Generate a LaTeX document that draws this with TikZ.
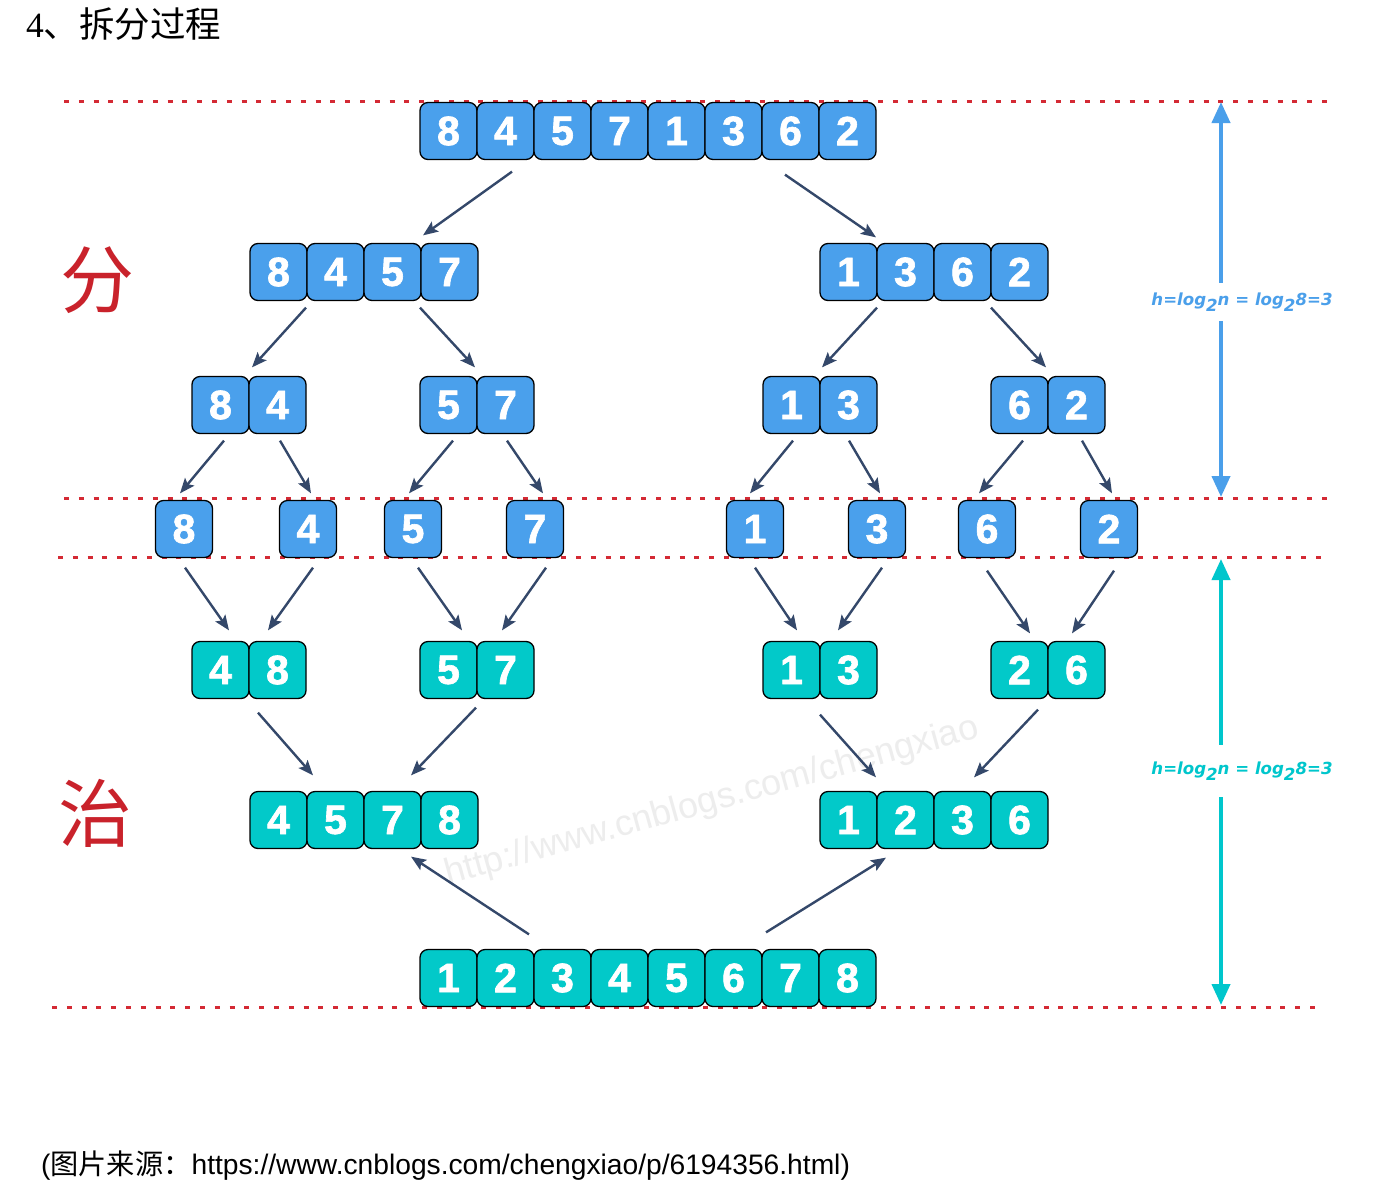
\documentclass[tikz,border=0pt]{standalone}
\usepackage{fontspec}
\setmainfont{Liberation Sans}
\newfontfamily\cjk{Noto Sans CJK SC}
\newfontfamily\serifnum{Liberation Serif}
\newfontfamily\formulafont{DejaVu Sans}
\newfontfamily\digitfont{Liberation Sans Bold}[FakeBold=1.6]
\usetikzlibrary{arrows.meta,calc}

\definecolor{cellblue}{HTML}{4AA0EC}
\definecolor{cellteal}{HTML}{02C9C9}
\definecolor{arrowdark}{HTML}{34486A}
\definecolor{dotred}{HTML}{D42A34}
\definecolor{bigred}{HTML}{C9222B}
\definecolor{hblue}{HTML}{4A9FEA}
\definecolor{hteal}{HTML}{00C6CC}

\tikzset{
  cell/.style={draw=black, line width=1.3pt, rounded corners=8pt,
    minimum width=57pt, minimum height=57pt, inner sep=0pt, text=white,
    font=\digitfont\fontsize{41}{41}\selectfont},
  bluecell/.style={cell, fill=cellblue},
  tealcell/.style={cell, fill=cellteal},
  flow/.style={draw=arrowdark, line width=2.4pt,
    -{Stealth[length=15pt,width=12pt,inset=3pt]}},
  redline/.style={draw=dotred, line width=3pt, dash pattern=on 5pt off 9.8pt},
  heightlabel/.style={font=\formulafont\fontsize{16.6}{16.6}\selectfont\bfseries\itshape,
    minimum height=38pt, inner sep=0pt},
  heightarrow/.style={line width=4pt, -{Triangle[length=21pt,width=18pt]}},
  bigchar/.style={text=bigred, font=\cjk\fontsize{74}{74}\selectfont}
}

\newcommand\sublow[1]{\raisebox{-0.35em}{#1}}

\begin{document}
\begin{tikzpicture}[x=1pt,y=-1pt]
\useasboundingbox (0,0) rectangle (1383,1186);
\fill[white] (0,0) rectangle (1383,1186);

% faint watermark
\node[rotate=15.5, text=black!7, font=\fontsize{36}{36}\selectfont] (wm) at (712,802)
  {http://www.cnblogs.com/chengxiao};

% heading and source line
\node[anchor=west, inner sep=0pt, font=\fontsize{35.5}{35.5}\selectfont] (title) at (26,24)
  {{\serifnum 4}{\cjk 、拆分过程}};
\node[anchor=west, inner sep=0pt, font=\fontsize{28.2}{28.2}\selectfont] (src) at (41,1166)
  {({\cjk 图片来源：}https://www.cnblogs.com/chengxiao/p/6194356.html)};

% dotted level lines
\draw[redline] (64,101) -- (1330,101);
\draw[redline] (64,498) -- (1330,498);
\draw[redline] (58,557) -- (1325,557);
\draw[redline] (52,1007) -- (1318,1007);

% big characters
\node[bigchar] (fen) at (97,280) {分};
\node[bigchar] (zhi) at (95,813) {治};

% split phase
\foreach \d [count=\i] in {8,4,5,7,1,3,6,2}
  \node[bluecell] (r1c\i) at ({448.5+57*(\i-1)},131) {\d};
\foreach \d [count=\i] in {8,4,5,7}
  \node[bluecell] (r2a\i) at ({278.5+57*(\i-1)},272) {\d};
\foreach \d [count=\i] in {1,3,6,2}
  \node[bluecell] (r2b\i) at ({848.5+57*(\i-1)},272) {\d};
\foreach \d [count=\i] in {8,4}
  \node[bluecell] (r3a\i) at ({220.5+57*(\i-1)},405) {\d};
\foreach \d [count=\i] in {5,7}
  \node[bluecell] (r3b\i) at ({448.5+57*(\i-1)},405) {\d};
\foreach \d [count=\i] in {1,3}
  \node[bluecell] (r3c\i) at ({791.5+57*(\i-1)},405) {\d};
\foreach \d [count=\i] in {6,2}
  \node[bluecell] (r3d\i) at ({1019.5+57*(\i-1)},405) {\d};
\foreach \d/\x [count=\i] in {8/184,4/308,5/413,7/535,1/755,3/877,6/987,2/1109}
  \node[bluecell] (s\i) at (\x,529) {\d};

% merge phase
\foreach \d [count=\i] in {4,8}
  \node[tealcell] (r5a\i) at ({220.5+57*(\i-1)},670) {\d};
\foreach \d [count=\i] in {5,7}
  \node[tealcell] (r5b\i) at ({448.5+57*(\i-1)},670) {\d};
\foreach \d [count=\i] in {1,3}
  \node[tealcell] (r5c\i) at ({791.5+57*(\i-1)},670) {\d};
\foreach \d [count=\i] in {2,6}
  \node[tealcell] (r5d\i) at ({1019.5+57*(\i-1)},670) {\d};
\foreach \d [count=\i] in {4,5,7,8}
  \node[tealcell] (r6a\i) at ({278.5+57*(\i-1)},820) {\d};
\foreach \d [count=\i] in {1,2,3,6}
  \node[tealcell] (r6b\i) at ({848.5+57*(\i-1)},820) {\d};
\foreach \d [count=\i] in {1,2,3,4,5,6,7,8}
  \node[tealcell] (r7c\i) at ({448.5+57*(\i-1)},978) {\d};

% level 1 -> 2
\draw[flow] ($(r1c2.south)+(6.5,11.5)$) -- ($(r2a4.north)+(-26.5,-7.5)$);
\draw[flow] ($(r1c7.south)+(-5.5,14.5)$) -- ($(r2b1.north)+(27.5,-5.5)$);
% level 2 -> 3
\draw[flow] ($(r2a1.south)+(27.5,6.5)$) -- ($(r3a1.north)+(31.5,-8.5)$);
\draw[flow] ($(r2a4.south)+(-29.5,6.5)$) -- ($(r3b2.north)+(-30.5,-8.5)$);
\draw[flow] ($(r2b1.south)+(28.5,6.5)$) -- ($(r3c1.north)+(30.5,-8.5)$);
\draw[flow] ($(r2b4.south)+(-28.5,6.5)$) -- ($(r3d2.north)+(-30.5,-8.5)$);
% level 3 -> singles
\draw[flow] ($(r3a1.south)+(3.5,6.5)$) -- ($(s1.north)+(-4,-6.5)$);
\draw[flow] ($(r3a2.south)+(2.5,6.5)$) -- ($(s2.north)+(3,-6.5)$);
\draw[flow] ($(r3b1.south)+(4.5,6.5)$) -- ($(s3.north)+(-4,-6.5)$);
\draw[flow] ($(r3b2.south)+(1.5,6.5)$) -- ($(s4.north)+(8,-6.5)$);
\draw[flow] ($(r3c1.south)+(1.5,6.5)$) -- ($(s5.north)+(-5,-6.5)$);
\draw[flow] ($(r3c2.south)+(0.5,6.5)$) -- ($(s6.north)+(3,-6.5)$);
\draw[flow] ($(r3d1.south)+(3.5,6.5)$) -- ($(s7.north)+(-8,-6.5)$);
\draw[flow] ($(r3d2.south)+(5.5,6.5)$) -- ($(s8.north)+(3,-6.5)$);
% singles -> pairs
\draw[flow] ($(s1.south)+(1,9.5)$) -- ($(r5a1.north)+(8.5,-10.5)$);
\draw[flow] ($(s2.south)+(5,9.5)$) -- ($(r5a2.north)+(-9.5,-10.5)$);
\draw[flow] ($(s3.south)+(5,9.5)$) -- ($(r5b1.north)+(13.5,-10.5)$);
\draw[flow] ($(s4.south)+(11,9.5)$) -- ($(r5b2.north)+(-3.5,-10.5)$);
\draw[flow] ($(s5.south)+(0,9.5)$) -- ($(r5c1.north)+(5.5,-10.5)$);
\draw[flow] ($(s6.south)+(5,9.5)$) -- ($(r5c2.north)+(-10.5,-10.5)$);
\draw[flow] ($(s7.south)+(0,12.5)$) -- ($(r5d1.north)+(10.5,-7.5)$);
\draw[flow] ($(s8.south)+(5,12.5)$) -- ($(r5d2.north)+(-4.5,-7.5)$);
% pairs -> quads
\draw[flow] ($(r5a1.south)+(37.5,13.5)$) -- ($(r6a1.north)+(34.5,-15.5)$);
\draw[flow] ($(r5b2.south)+(-29.5,8.5)$) -- ($(r6a4.north)+(-38.5,-15.5)$);
\draw[flow] ($(r5c1.south)+(28.5,15.5)$) -- ($(r6b1.north)+(27.5,-13.5)$);
\draw[flow] ($(r5d2.south)+(-38.5,10.5)$) -- ($(r6b3.north)+(11.5,-13.5)$);
% full row -> quads
\draw[flow] ($(r7c2.north)+(23.5,-14.5)$) -- ($(r6a4.south)+(-38.5,7.5)$);
\draw[flow] ($(r7c7.north)+(-24.5,-16.5)$) -- ($(r6b2.south)+(-19.5,8.5)$);

% tree height markers
\node[heightlabel, text=hblue] (hsplit) at (1242,302)
  {h=log\sublow{2}n = log\sublow{2}8=3};
\coordinate (hsplittop) at (1221,102);
\coordinate (hsplitbot) at (1221,497);
\draw[heightarrow, draw=hblue, fill=hblue] (hsplit.north -| hsplittop) -- (hsplittop);
\draw[heightarrow, draw=hblue, fill=hblue] (hsplit.south -| hsplitbot) -- (hsplitbot);

\node[heightlabel, text=hteal, minimum height=52pt] (hmerge) at (1242,771)
  {h=log\sublow{2}n = log\sublow{2}8=3};
\coordinate (hmergetop) at (1221,559);
\coordinate (hmergebot) at (1221,1005);
\draw[heightarrow, draw=hteal, fill=hteal] (hmerge.north -| hmergetop) -- (hmergetop);
\draw[heightarrow, draw=hteal, fill=hteal] (hmerge.south -| hmergebot) -- (hmergebot);
\end{tikzpicture}
\end{document}
